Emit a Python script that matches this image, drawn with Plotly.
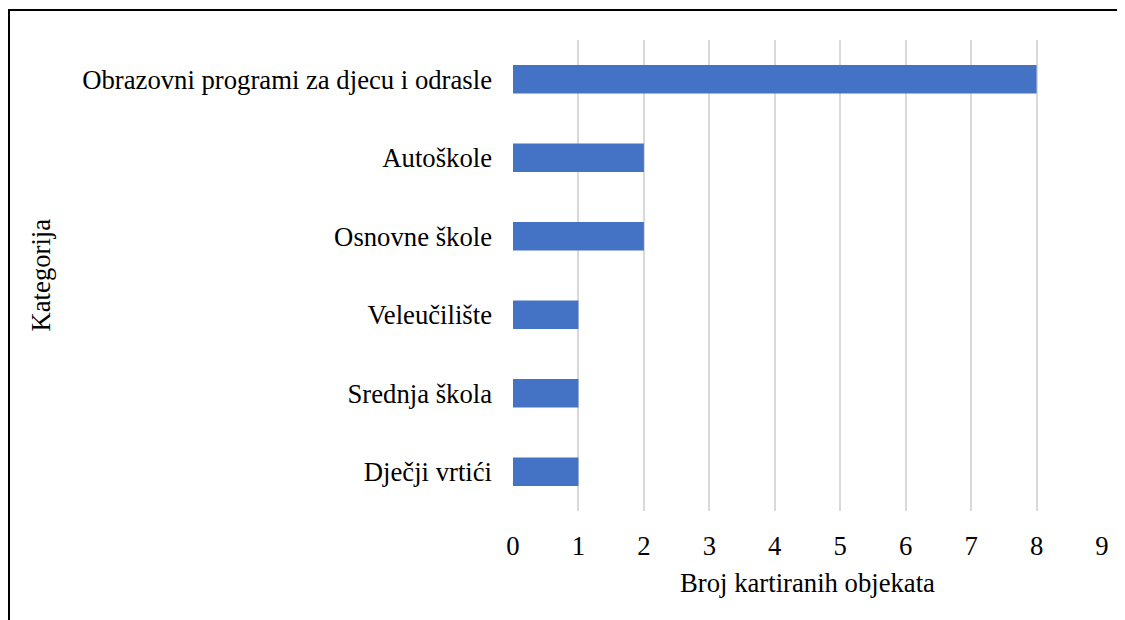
import plotly.graph_objects as go

categories = ["Dječji vrtići", "Srednja škola", "Veleučilište", "Osnovne škole", "Autoškole",
              "Obrazovni programi za djecu i odrasle"]
values = [1, 1, 1, 2, 2, 8]
x_ticks = [0, 1, 2, 3, 4, 5, 6, 7, 8, 9]

FONT = "'Liberation Serif', 'Times New Roman', serif"
FS = 26.7

fig = go.Figure(go.Bar(
    x=values, y=categories, orientation="h",
    marker=dict(color="#4472C4", line=dict(width=0)),
    width=0.36,
))

# page has an 8px body margin, so the figure is sized to fill the rest
W, H = 1117, 612
L, R, T, B = 505, 23, 32, 109
pw, ph = W - L - R, H - T - B

fig.update_layout(
    width=W, height=H,
    margin=dict(l=L, r=R, t=T, b=B, pad=0),
    paper_bgcolor="white", plot_bgcolor="white",
    font=dict(family=FONT, size=FS, color="black"),
    showlegend=False,
    xaxis=dict(
        range=[0, 9], tickvals=x_ticks, showgrid=True, gridcolor="#D9D9D9", gridwidth=1.5,
        zeroline=False, showline=False, ticks="", ticklabelstandoff=16,
        title=dict(text="Broj kartiranih objekata", standoff=13, font=dict(size=FS)),
        tickfont=dict(size=FS),
    ),
    yaxis=dict(
        categoryorder="array", categoryarray=categories,
        range=[-0.5, 5.5], showgrid=False, zeroline=False, showline=False, ticks="",
        ticklabelstandoff=20, tickfont=dict(size=FS),
    ),
    annotations=[dict(
        text="Kategorija", textangle=-90, xref="paper", yref="paper",
        x=(32 - L) / pw, y=0.5, xanchor="center", yanchor="middle",
        showarrow=False, font=dict(size=FS),
    )],
    shapes=[dict(
        type="rect", xref="paper", yref="paper",
        x0=(1 - L) / pw, x1=2, y0=-1, y1=(H - B - 2) / ph,
        line=dict(color="black", width=2), fillcolor="rgba(0,0,0,0)", layer="above",
    )],
)

fig.write_html("out.html")
